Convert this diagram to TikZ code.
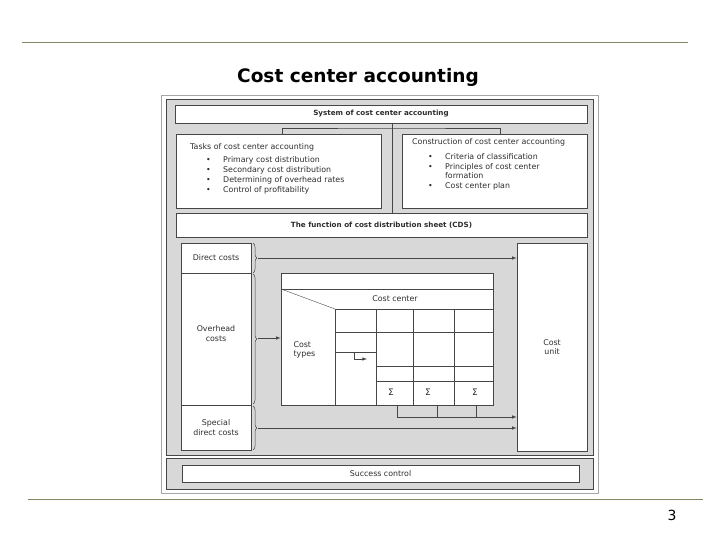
\documentclass[tikz,border=0pt]{standalone}
\usepackage{fontspec}
\setmainfont{DejaVu Sans}
\usetikzlibrary{arrows, decorations.pathreplacing}

\definecolor{rulecol}{RGB}{134,134,100}
\definecolor{panelgray}{RGB}{216,216,216}
\definecolor{framegray}{RGB}{70,70,70}
\definecolor{textgray}{RGB}{45,45,45}

\newcommand{\bulletrow}[1]{\hspace*{16bp}\makebox[17bp][l]{\textbullet}#1}
\newcommand{\controw}[1]{\hspace*{33bp}#1}

\begin{document}
\begin{tikzpicture}[x=1bp, y=-1bp,
    box/.style={rectangle, draw=framegray, fill=white, line width=0.6pt, inner sep=0pt},
    small/.style={font=\fontsize{7.9}{9.6}\selectfont, text=textgray},
    smallbold/.style={font=\fontsize{7.2}{8.6}\selectfont\bfseries, text=textgray},
    link/.style={draw=framegray, line width=0.6pt},
    brace/.style={draw=framegray, line width=0.5pt, decorate, decoration={brace, amplitude=4bp}}]
    \useasboundingbox (0,0) rectangle (720,540);
    \fill[white] (0,0) rectangle (720,540);

    % slide
    \draw[rulecol, line width=1pt] (22,43) -- (688,43);
    \draw[rulecol, line width=1pt] (28,499) -- (703,499);
    \node [font=\fontsize{18.6}{22}\selectfont\bfseries] (title) at (358,77) {Cost center accounting};
    \node [font=\fontsize{14}{16}\selectfont] (pagenum) at (672,515) {3};

    % frame and panels
    \draw[gray!70, line width=0.8pt] (161,95) rectangle (598,493);
    \draw[framegray, fill=panelgray, line width=0.6pt] (166,99) rectangle (593,455);
    \draw[framegray, fill=panelgray, line width=0.6pt] (166,458) rectangle (593,489);

    % upper part
    \node [box, minimum width=412bp, minimum height=18bp, smallbold] (system) at (381,114) {System of cost center accounting};
    \node [box, minimum width=205bp, minimum height=74bp] (tasks) at (278.5,171) {};
    \node [box, minimum width=185bp, minimum height=74bp] (construction) at (494.5,171) {};
    \node [box, minimum width=411bp, minimum height=24bp, smallbold] (cds) at (381.5,225) {The function of cost distribution sheet (CDS)};

    \node [small, anchor=north west, align=left, inner sep=0pt] (taskstxt) at (190,143.5) {Tasks of cost center accounting\\[2.8bp]
        \bulletrow{Primary cost distribution}\\[0.6bp]
        \bulletrow{Secondary cost distribution}\\[0.6bp]
        \bulletrow{Determining of  overhead rates}\\[0.6bp]
        \bulletrow{Control of profitability}};
    \node [small, anchor=north west, align=left, inner sep=0pt] (constrtxt) at (412,138.5) {Construction of cost center accounting\\[5bp]
        \bulletrow{Criteria of classification}\\[0.2bp]
        \bulletrow{Principles of cost center}\\[0.2bp]
        \controw{formation}\\[0.2bp]
        \bulletrow{Cost center plan}};

    \draw[link] (system.south -| 392,0) -- (cds.north -| 392,0);
    \draw[link] (tasks.north -| 282,0) |- (392,128) -| (construction.north -| 500,0);

    % cost side
    \node [box, minimum width=70bp, minimum height=30bp, small] (direct) at (216,258) {Direct costs};
    \node [box, minimum width=70bp, minimum height=132bp, small, align=center] (overhead) at (216,339) {Overhead\\costs\\[1.5bp]};
    \node [box, minimum width=70bp, minimum height=45bp, small, align=center] (special) at (216,427.5) {Special\\direct costs};
    \node [box, minimum width=70bp, minimum height=208bp, small, align=center] (unit) at (552,347) {Cost\\unit};

    \draw[brace] (253,243) -- (253,273);
    \draw[brace] (253,274) -- (253,404);
    \draw[brace] (253,406) -- (253,450);
    \coordinate (directtip) at (258,258);
    \coordinate (overheadtip) at (258,338);
    \coordinate (specialtip) at (258,428);
    \draw[link, -latex] (directtip) -- (directtip -| unit.west);
    \draw[link, -latex] (specialtip) -- (specialtip -| unit.west);

    % cost distribution sheet
    \node [box, minimum width=212bp, minimum height=132bp] (sheet) at (387,339) {};
    \draw[link, -latex] (overheadtip) -- (overheadtip -| sheet.west);
    \draw[link] (281,289) -- (493,289);
    \draw[framegray, line width=0.4pt] (281,289) -- (335,309);
    \draw[link] (335,309) -- (493,309);
    \foreach \x in {335,376,413,454}
        \draw[link] (\x,309) -- (\x,405);
    \draw[link] (335,332) -- (493,332);
    \draw[link] (335,352) -- (376,352);
    \draw[link] (376,366) -- (493,366);
    \draw[link] (376,381) -- (493,381);
    \node [small] (centerlbl) at (395,299) {Cost center};
    \node [small, anchor=west, align=left] (typeslbl) at (290,350) {Cost\\types};
    \foreach \x/\n in {391/a,428/b,475/c}
        \node [small, font=\fontsize{9}{10}\selectfont] (sum\n) at (\x,392) {Σ};
    \draw[link, -latex] (354,352) |- (367,359);

    \foreach \x in {397,437,476}
        \draw[link] (\x,405) -- (\x,417);
    \coordinate (sumline) at (397,417);
    \draw[link, -latex] (sumline) -- (sumline -| unit.west);

    % success control
    \node [box, minimum width=397bp, minimum height=17bp, small] (success) at (380.5,473.5) {Success control};
\end{tikzpicture}
\end{document}
